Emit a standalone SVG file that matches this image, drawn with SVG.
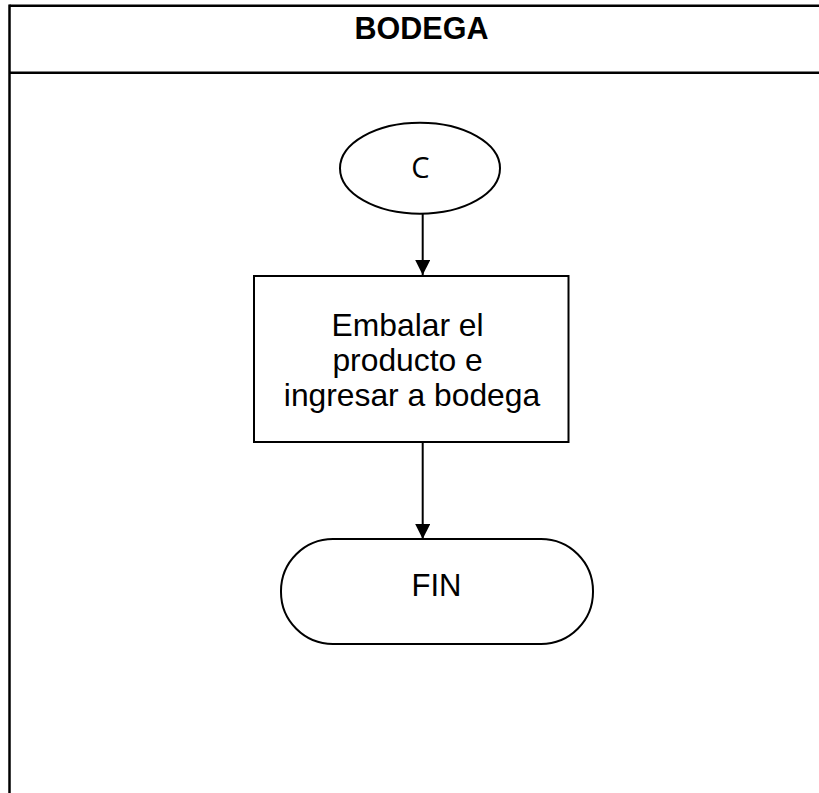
<svg xmlns="http://www.w3.org/2000/svg" width="819" height="793" viewBox="0 0 819 793">
  <style>
    .frame { stroke: #000; stroke-width: 2.5; fill: none; }
    .shape { stroke: #000; stroke-width: 2; fill: #fff; }
    .edge { stroke: #000; stroke-width: 2; fill: none; }
    .lbl { font-family: "Liberation Sans", Arial, sans-serif; fill: #000; text-anchor: middle; }
    .title { font-family: "Liberation Sans", Arial, sans-serif; font-weight: bold; font-size: 30.5px; fill: #000; text-anchor: middle; }
    .conn { font-family: "Open Sans", "Noto Sans", sans-serif; font-size: 29px; fill: #000; text-anchor: middle; }
  </style>
  <defs>
    <marker id="arrow" markerUnits="userSpaceOnUse" markerWidth="15" markerHeight="16" refX="15" refY="7.5" orient="auto">
      <path d="M0,0 L15,7.5 L0,15 Z" fill="#000"/>
    </marker>
  </defs>
  <rect width="819" height="793" fill="#fff"/>

  <!-- swimlane frame -->
  <g id="lane">
    <line class="frame" x1="9.5" y1="5.7" x2="819" y2="5.7"/>
    <line class="frame" x1="9.5" y1="4.5" x2="9.5" y2="793"/>
    <line class="frame" x1="9.5" y1="72.7" x2="819" y2="72.7"/>
    <text class="title" x="421.5" y="38.5">BODEGA</text>
  </g>

  <!-- connectors -->
  <g id="connectors">
    <line class="edge" x1="422.7" y1="214" x2="422.7" y2="275" marker-end="url(#arrow)"/>
    <line class="edge" x1="422.7" y1="442" x2="422.7" y2="539" marker-end="url(#arrow)"/>
  </g>

  <g id="node-c">
    <ellipse class="shape" cx="420" cy="168.3" rx="80" ry="45.5"/>
    <text class="conn" x="420.5" y="178">C</text>
  </g>

  <g id="node-embalar">
    <rect class="shape" x="254" y="276" width="314.5" height="166"/>
    <text class="lbl" font-size="31.8" x="412">
      <tspan x="412" y="336">Embalar el</tspan>
      <tspan x="412" y="371">producto e</tspan>
      <tspan x="412" y="406">ingresar a bodega</tspan>
    </text>
  </g>

  <g id="node-fin">
    <rect class="shape" x="281" y="539" width="312" height="105" rx="52" ry="52"/>
    <text class="lbl" font-size="31" x="436.5" y="596">FIN</text>
  </g>
</svg>
